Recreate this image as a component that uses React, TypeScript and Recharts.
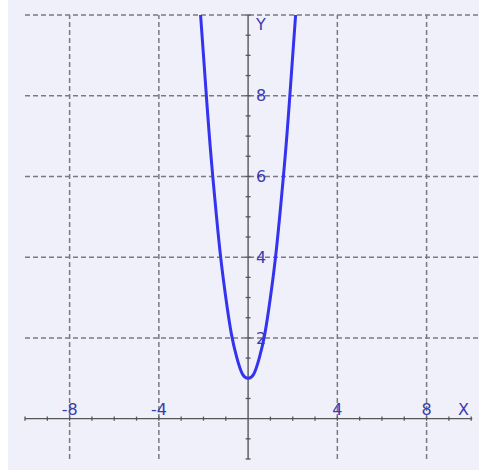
import { LineChart, Line, XAxis, YAxis, ReferenceLine, ReferenceDot } from "recharts"

// points
const xValues = [-2.13, -2, -1.75, -1.5, -1.25, -1, -0.75, -0.5, -0.25, 0, 0.25, 0.5, 0.75, 1, 1.25, 1.5, 1.75, 2, 2.13]
const yValues = [10, 9, 7.1, 5.5, 4.1, 3, 2.1, 1.5, 1.1, 1, 1.1, 1.5, 2.1, 3, 4.1, 5.5, 7.1, 9, 10]

const xGrid = [-8, -4, 4, 8]
const yGrid = [2, 4, 6, 8, 10]
const xLabels = ["-8", "-4", "4", "8"]
const yLabels = ["2", "4", "6", "8"]
const xTicks = [-10, -9, -8, -7, -6, -5, -4, -3, -2, -1, 1, 2, 3, 4, 5, 6, 7, 8, 9, 10]
const yTicks = [-1, -0.5, 0.5, 1, 1.5, 2, 2.5, 3, 3.5, 4, 4.5, 5, 5.5, 6, 6.5, 7, 7.5, 8, 8.5, 9, 9.5, 10]

const data = xValues.map((x, i) => ({ x, y: yValues[i] }))

const gridColor = "#7a7a82"
const axisColor = "#55555a"
const labelColor = "#3b3bb0"
const font = "'DejaVu Sans', sans-serif"

export default function App() {
  return (
    <div style={{ position: "absolute", left: 0, top: 0, width: 479, height: 473, background: "#fff" }}>
      <div style={{ position: "absolute", left: 8, top: 0, width: 471, height: 470, background: "#eff0fa" }} />
      <div style={{ position: "absolute", left: 0, top: 0 }}>
        <LineChart width={479} height={473} data={data} margin={{ top: 15, right: 0, bottom: 14, left: 25 }}>
          <XAxis dataKey="x" type="number" domain={[-10, 10.35]} hide allowDataOverflow />
          <YAxis type="number" domain={[-1, 10]} hide allowDataOverflow />

          {xGrid.map((v) => (
            <ReferenceLine key={"gx" + v} x={v} stroke={gridColor} strokeDasharray="5 3" strokeWidth={1.5} />
          ))}
          {yGrid.map((v) => (
            <ReferenceLine key={"gy" + v} y={v} stroke={gridColor} strokeDasharray="5 3" strokeWidth={1.5} />
          ))}

          {/* axes */}
          <ReferenceLine segment={[{ x: -10, y: 0 }, { x: 10.05, y: 0 }]} stroke={axisColor} strokeWidth={1.4} />
          <ReferenceLine segment={[{ x: 0, y: -1 }, { x: 0, y: 10 }]} stroke={axisColor} strokeWidth={1.4} />
          {xTicks.map((v) => (
            <ReferenceLine key={"tx" + v} segment={[{ x: v, y: -0.05 }, { x: v, y: 0.05 }]} stroke={axisColor} strokeWidth={1.3} />
          ))}
          {yTicks.map((v) => (
            <ReferenceLine key={"ty" + v} segment={[{ x: -0.11, y: v }, { x: 0.11, y: v }]} stroke={axisColor} strokeWidth={1.3} />
          ))}

          <Line
            type="natural"
            dataKey="y"
            stroke="#3333f0"
            strokeWidth={3}
            dot={false}
            isAnimationActive={false}
          />

          {xGrid.map((v, i) => (
            <ReferenceDot
              key={"lx" + v}
              x={v}
              y={0}
              r={0}
              fill="none"
              stroke="none"
              label={{ value: xLabels[i], position: "top", offset: 4, fill: labelColor, fontSize: 16, fontFamily: font }}
            />
          ))}
          {yGrid.slice(0, 4).map((v, i) => (
            <ReferenceDot
              key={"ly" + v}
              x={0}
              y={v}
              r={0}
              fill="none"
              stroke="none"
              label={{ value: yLabels[i], position: "right", offset: 8, fill: labelColor, fontSize: 16, fontFamily: font }}
            />
          ))}
          <ReferenceDot
            x={0}
            y={9.78}
            r={0}
            fill="none"
            stroke="none"
            label={{ value: "Y", position: "right", offset: 8, fill: labelColor, fontSize: 16, fontFamily: font }}
          />
          <ReferenceDot
            x={9.65}
            y={0}
            r={0}
            fill="none"
            stroke="none"
            label={{ value: "X", position: "top", offset: 4, fill: labelColor, fontSize: 16, fontFamily: font }}
          />
        </LineChart>
      </div>
    </div>
  )
}
